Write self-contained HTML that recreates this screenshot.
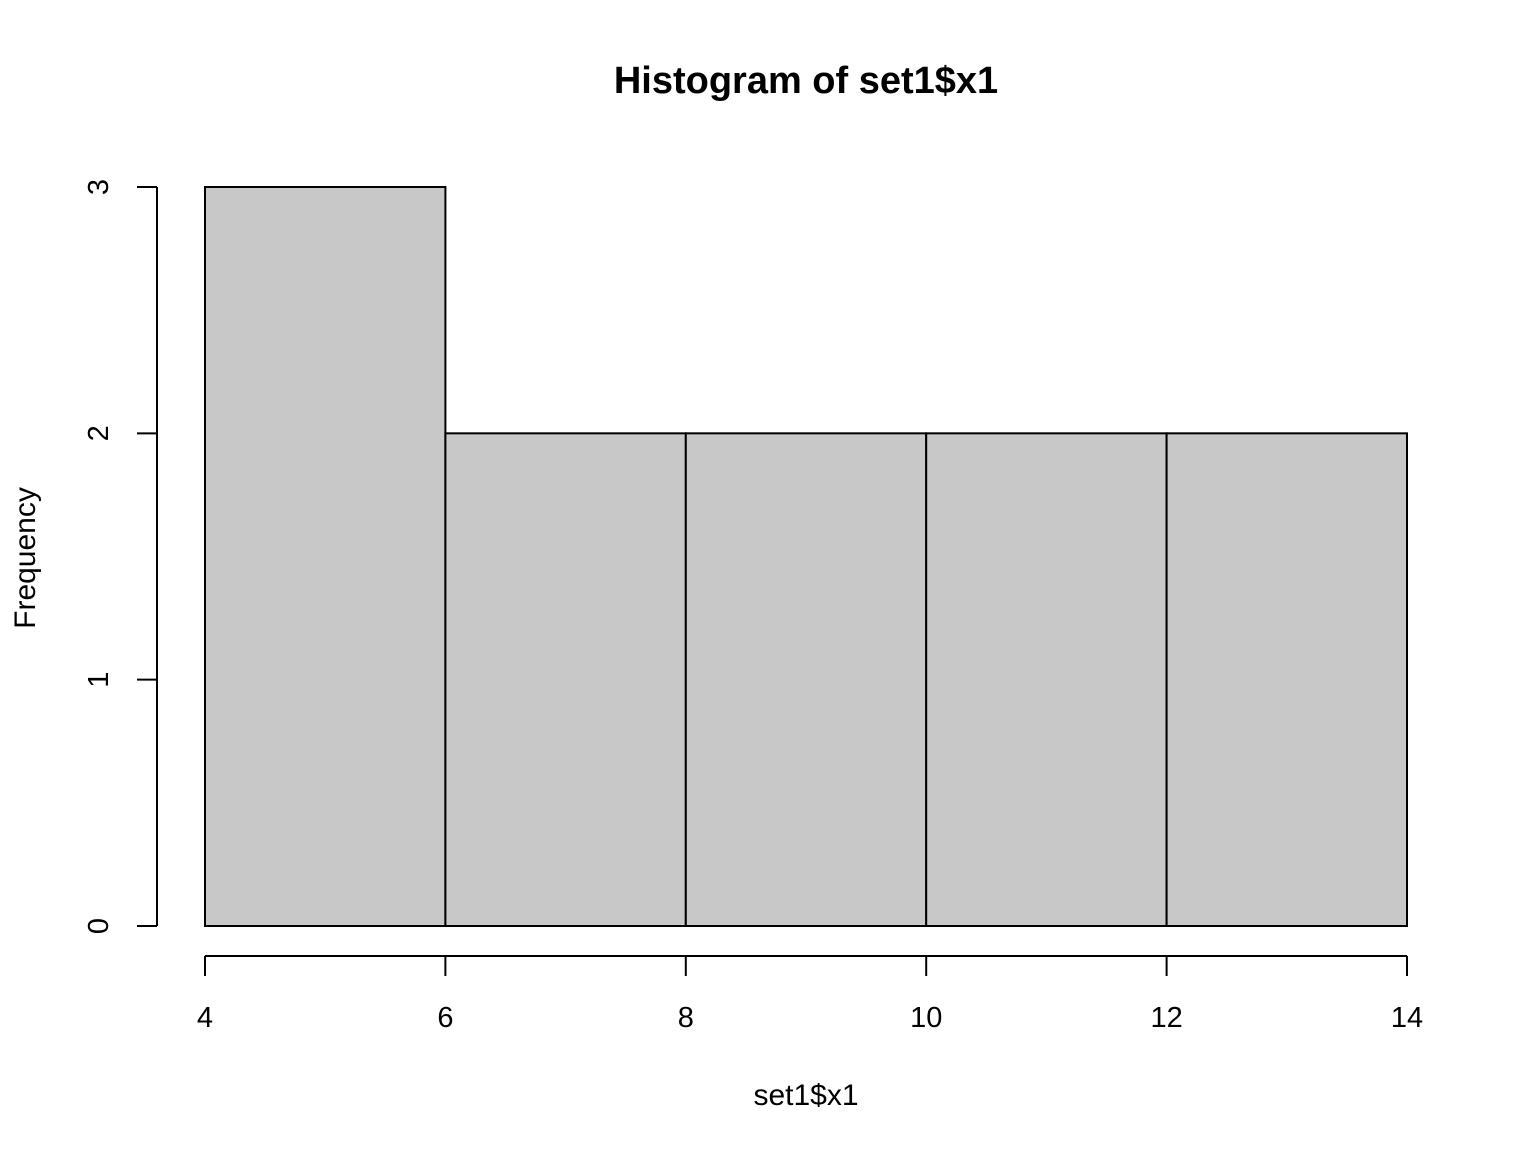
<!DOCTYPE html>
<html>
<head>
<meta charset="utf-8">
<style>
  html, body { margin: 0; padding: 0; background: #fff; }
  svg { display: block; }
  text { font-family: "Liberation Sans", Arial, sans-serif; fill: #000; }
</style>
</head>
<body>
<svg id="chart" width="1536" height="1152" viewBox="0 0 1536 1152" xmlns="http://www.w3.org/2000/svg">
  <rect x="0" y="0" width="1536" height="1152" fill="#fff"/>
  <text x="806" y="93" font-size="38" font-weight="bold" text-anchor="middle">Histogram of set1$x1</text>
  <text x="806" y="1105" font-size="30" text-anchor="middle">set1$x1</text>
  <text transform="translate(35,558) rotate(-90)" font-size="30" text-anchor="middle">Frequency</text>
  <g id="bars"></g>
  <g id="xaxis"></g>
  <g id="yaxis"></g>
</svg>
<script>
const binEdges = [4, 6, 8, 10, 12, 14];
const counts = [3, 2, 2, 2, 2];
const xTicks = [4, 6, 8, 10, 12, 14];
const yTicks = [0, 1, 2, 3];

const NS = "http://www.w3.org/2000/svg";
function xScale(v) { return 205 + (v - 4) * (1407 - 205) / 10; }
function yScale(v) { return 926 - v * (926 - 187) / 3; }
function mk(tag, attrs) {
  const e = document.createElementNS(NS, tag);
  for (const k in attrs) e.setAttribute(k, attrs[k]);
  return e;
}
const bars = document.getElementById('bars');
counts.forEach((c, i) => {
  const x0 = xScale(binEdges[i]), x1 = xScale(binEdges[i + 1]);
  const r = mk('rect', {x: x0, y: yScale(c), width: x1 - x0, height: yScale(0) - yScale(c), fill: '#c8c8c8', stroke: '#000', 'stroke-width': 2});
  
  
  bars.appendChild(r);
});
const xa = document.getElementById('xaxis');
const xl = mk('line', {x1: xScale(xTicks[0]), x2: xScale(xTicks[xTicks.length - 1]), y1: 956, y2: 956, stroke: '#000', 'stroke-width': 2});


xa.appendChild(xl);
xTicks.forEach(t => {
  const l = mk('line', {x1: xScale(t), x2: xScale(t), y1: 956, y2: 976, stroke: '#000', 'stroke-width': 2});
  
  
  xa.appendChild(l);
  const tx = mk('text', {x: xScale(t), y: 1027, 'font-size': 29, 'text-anchor': 'middle'});
  tx.textContent = t;
  
  
  xa.appendChild(tx);
});
const ya = document.getElementById('yaxis');
const yl = mk('line', {x1: 157, x2: 157, y1: yScale(yTicks[0]), y2: yScale(yTicks[yTicks.length - 1]), stroke: '#000', 'stroke-width': 2});


ya.appendChild(yl);
yTicks.forEach(t => {
  const l = mk('line', {x1: 137, x2: 157, y1: yScale(t), y2: yScale(t), stroke: '#000', 'stroke-width': 2});
  
  
  ya.appendChild(l);
  const tx = mk('text', {transform: 'translate(108,' + yScale(t) + ') rotate(-90)', 'font-size': 29, 'text-anchor': 'middle'});
  tx.textContent = t;
  
  
  ya.appendChild(tx);
});
</script>
</body>
</html>
